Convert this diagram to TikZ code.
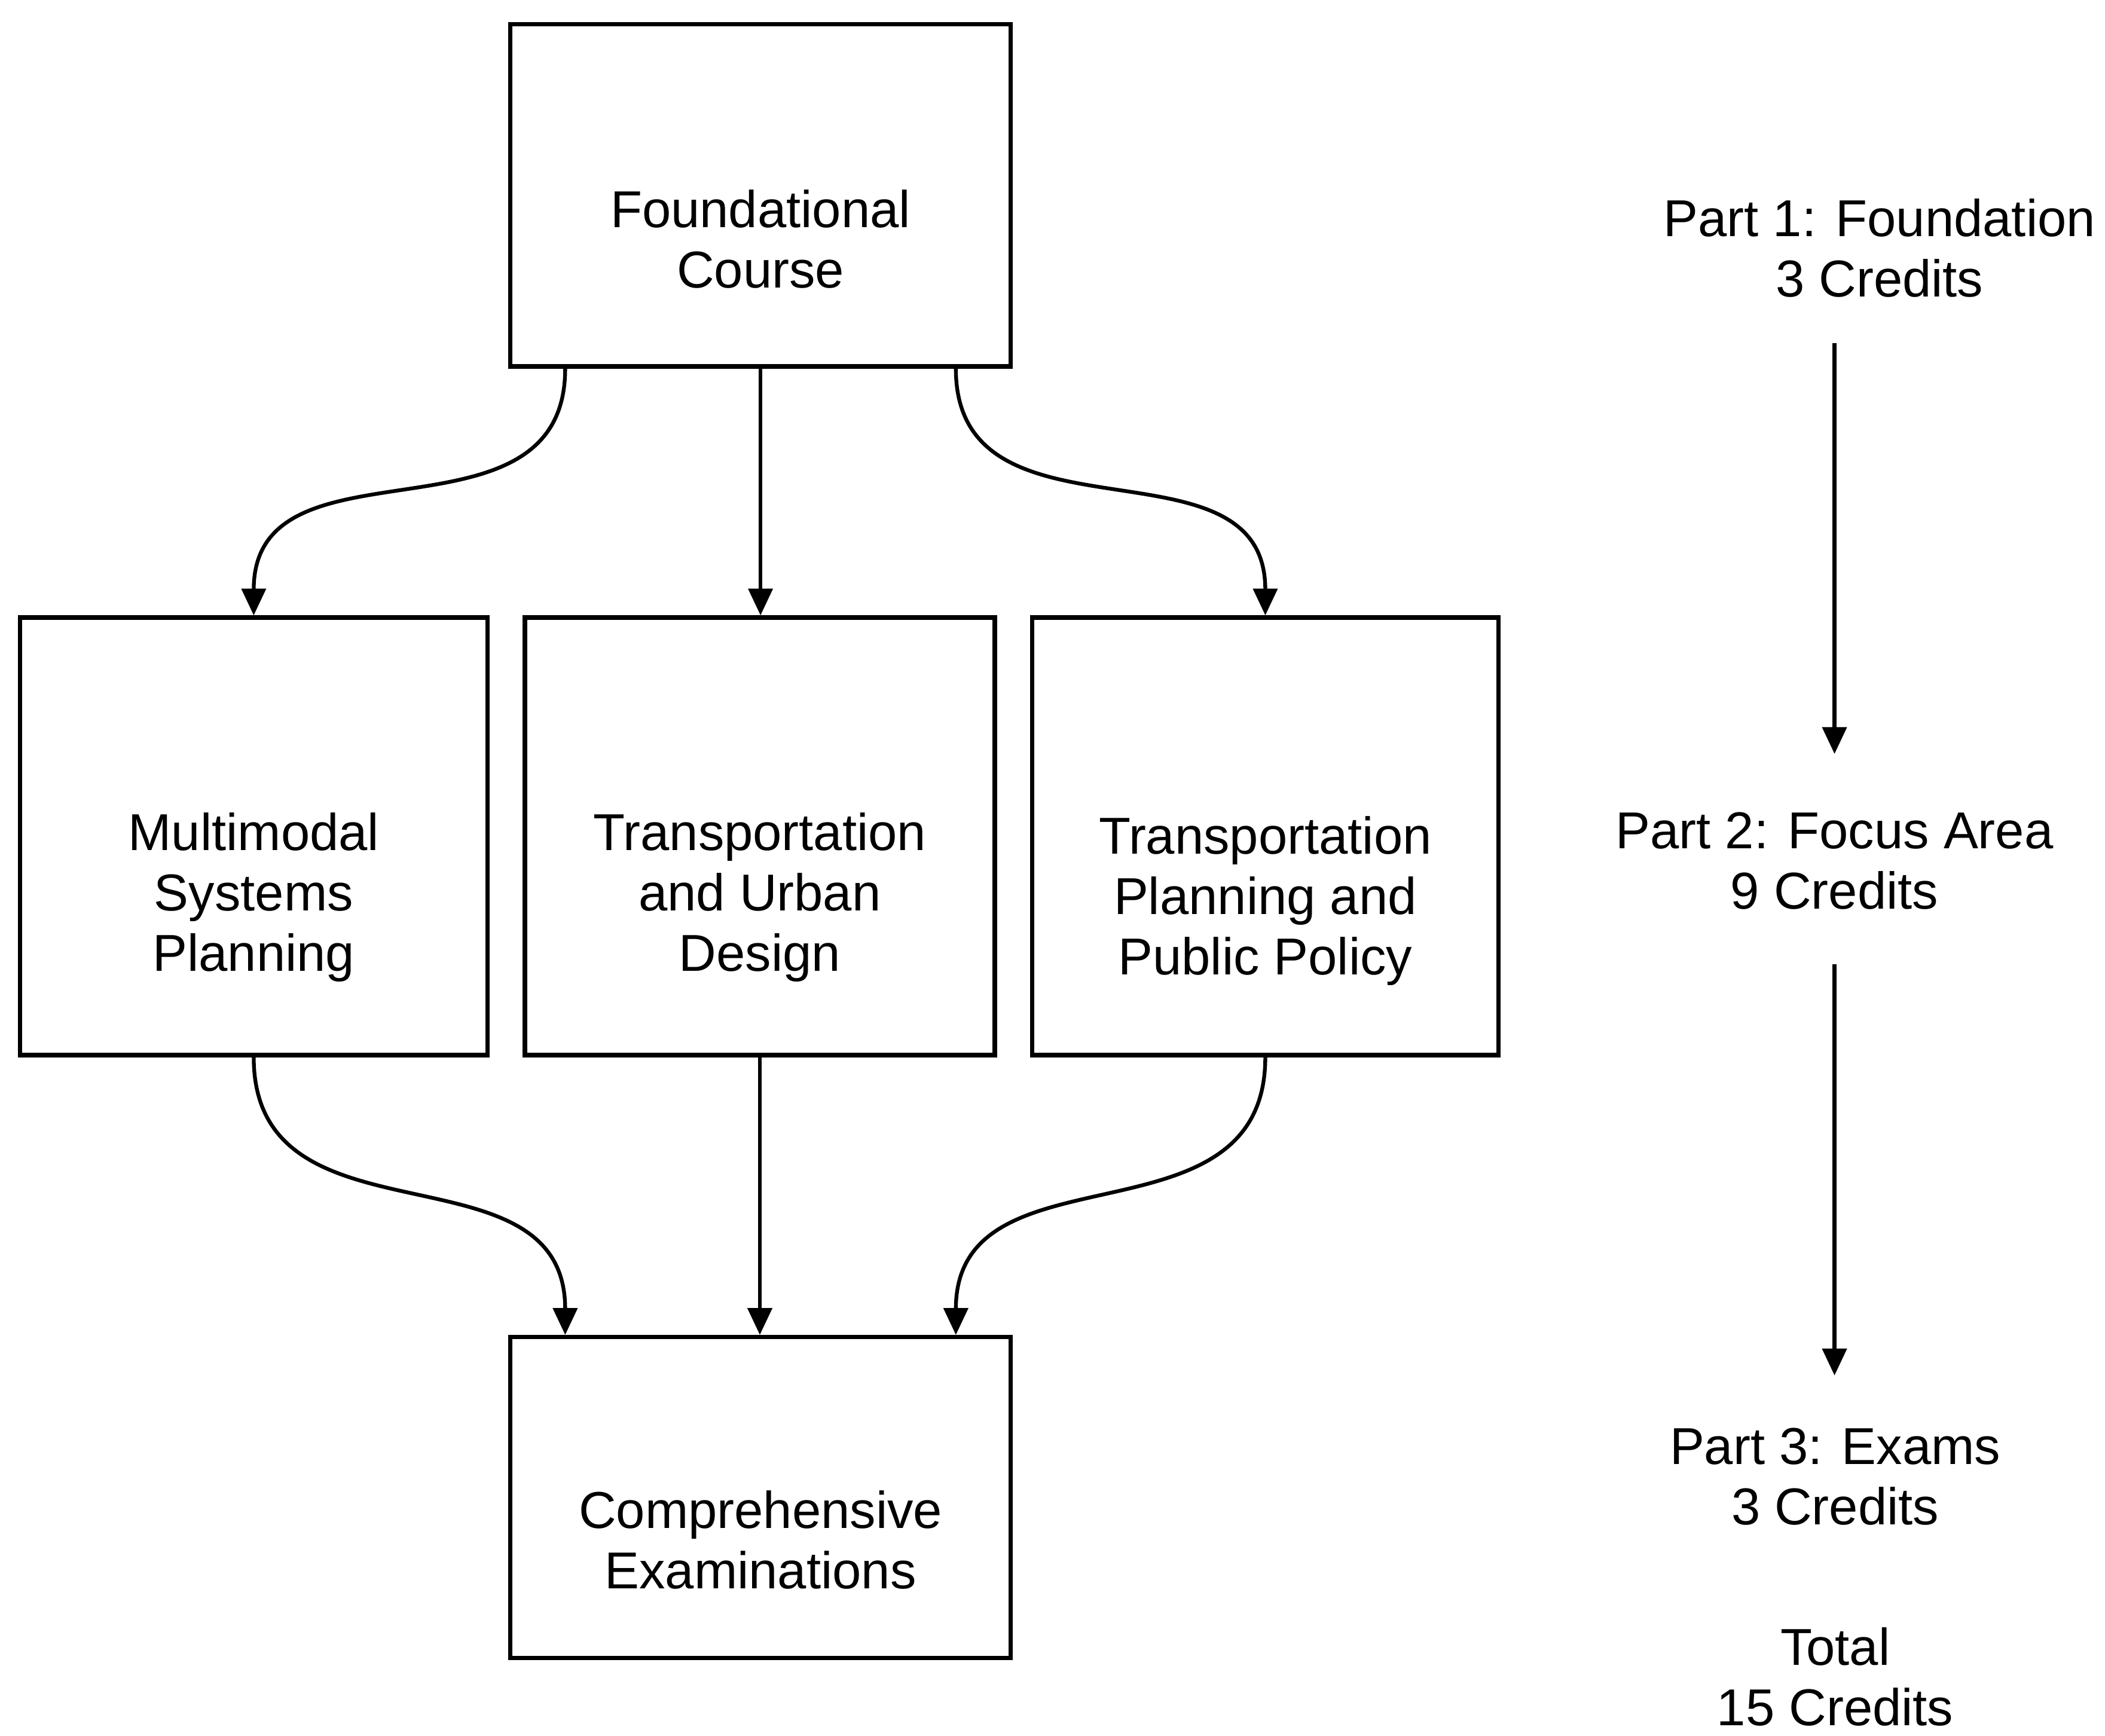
\documentclass[tikz,border=0pt]{standalone}
\usepackage{fontspec}
\setmainfont{Liberation Sans}
\usetikzlibrary{positioning,arrows.meta}

\begin{document}
\begin{tikzpicture}[
    box/.style={rectangle,draw,line width=0.9pt,minimum height=3.26cm},
    txt/.style={align=center,inner sep=0pt,font=\fontsize{11}{12.8}\selectfont},
    arrow/.style={-{Triangle[length=2mm,width=1.8mm]},line width=0.8pt},
    curve/.style={arrow,out=-90,in=90,looseness=1.2}]
    
    \useasboundingbox (0,0) rectangle (15.68,-12.93);
    
    % course boxes
    \node[box,minimum width=3.73cm,minimum height=2.55cm] (found) at (5.665,-1.455) {};
    \node[box,minimum width=3.48cm] (multi) at (1.89,-6.23) {};
    \node[box,minimum width=3.50cm] (urban) at (5.66,-6.23) {};
    \node[box,minimum width=3.47cm] (policy) at (9.425,-6.23) {};
    \node[box,minimum width=3.73cm,minimum height=2.39cm] (exams) at (5.665,-11.155) {};
    
    \node[txt] (foundtxt) at ([yshift=-3.25mm]found.center) {Foundational\\Course};
    \node[txt] (multitxt) at ([yshift=-4.55mm]multi.center) {Multimodal\\Systems\\Planning};
    \node[txt] (urbantxt) at ([yshift=-4.55mm]urban.center) {Transportation\\and Urban\\Design};
    \node[txt] (policytxt) at ([yshift=-4.8mm]policy.center) {Transportation\\Planning and\\Public Policy};
    \node[txt] (examstxt) at ([yshift=-3.15mm]exams.center) {Comprehensive\\Examinations};
    
    % credits column
    \node[txt] (part1) at (14.0,-1.85) {Part 1: Foundation\\3 Credits};
    \node[txt] (part2) at (13.665,-6.415) {Part 2: Focus Area\\9 Credits};
    \node[txt] (part3) at (13.67,-11.0) {Part 3: Exams\\3 Credits};
    \node[txt] (total) at (13.67,-12.49) {Total\\15 Credits};
    
    \draw[curve] ([xshift=-14.55mm]found.south) to (multi.north);
    \draw[arrow] (found.south) -- (found.south |- urban.north);
    \draw[curve] ([xshift=14.55mm]found.south) to (policy.north);
    \draw[curve] (multi.south) to ([xshift=-14.55mm]exams.north);
    \draw[arrow] (urban.south) -- (urban.south |- exams.north);
    \draw[curve] (policy.south) to ([xshift=14.55mm]exams.north);
    
    \draw[arrow,shorten <=3.3mm,shorten >=4.3mm] (part1.south -| part2.north) -- (part2.north);
    \draw[arrow,shorten <=4mm,shorten >=3.85mm] (part2.south) -- (part2.south |- part3.north);
    
\end{tikzpicture}
\end{document}
